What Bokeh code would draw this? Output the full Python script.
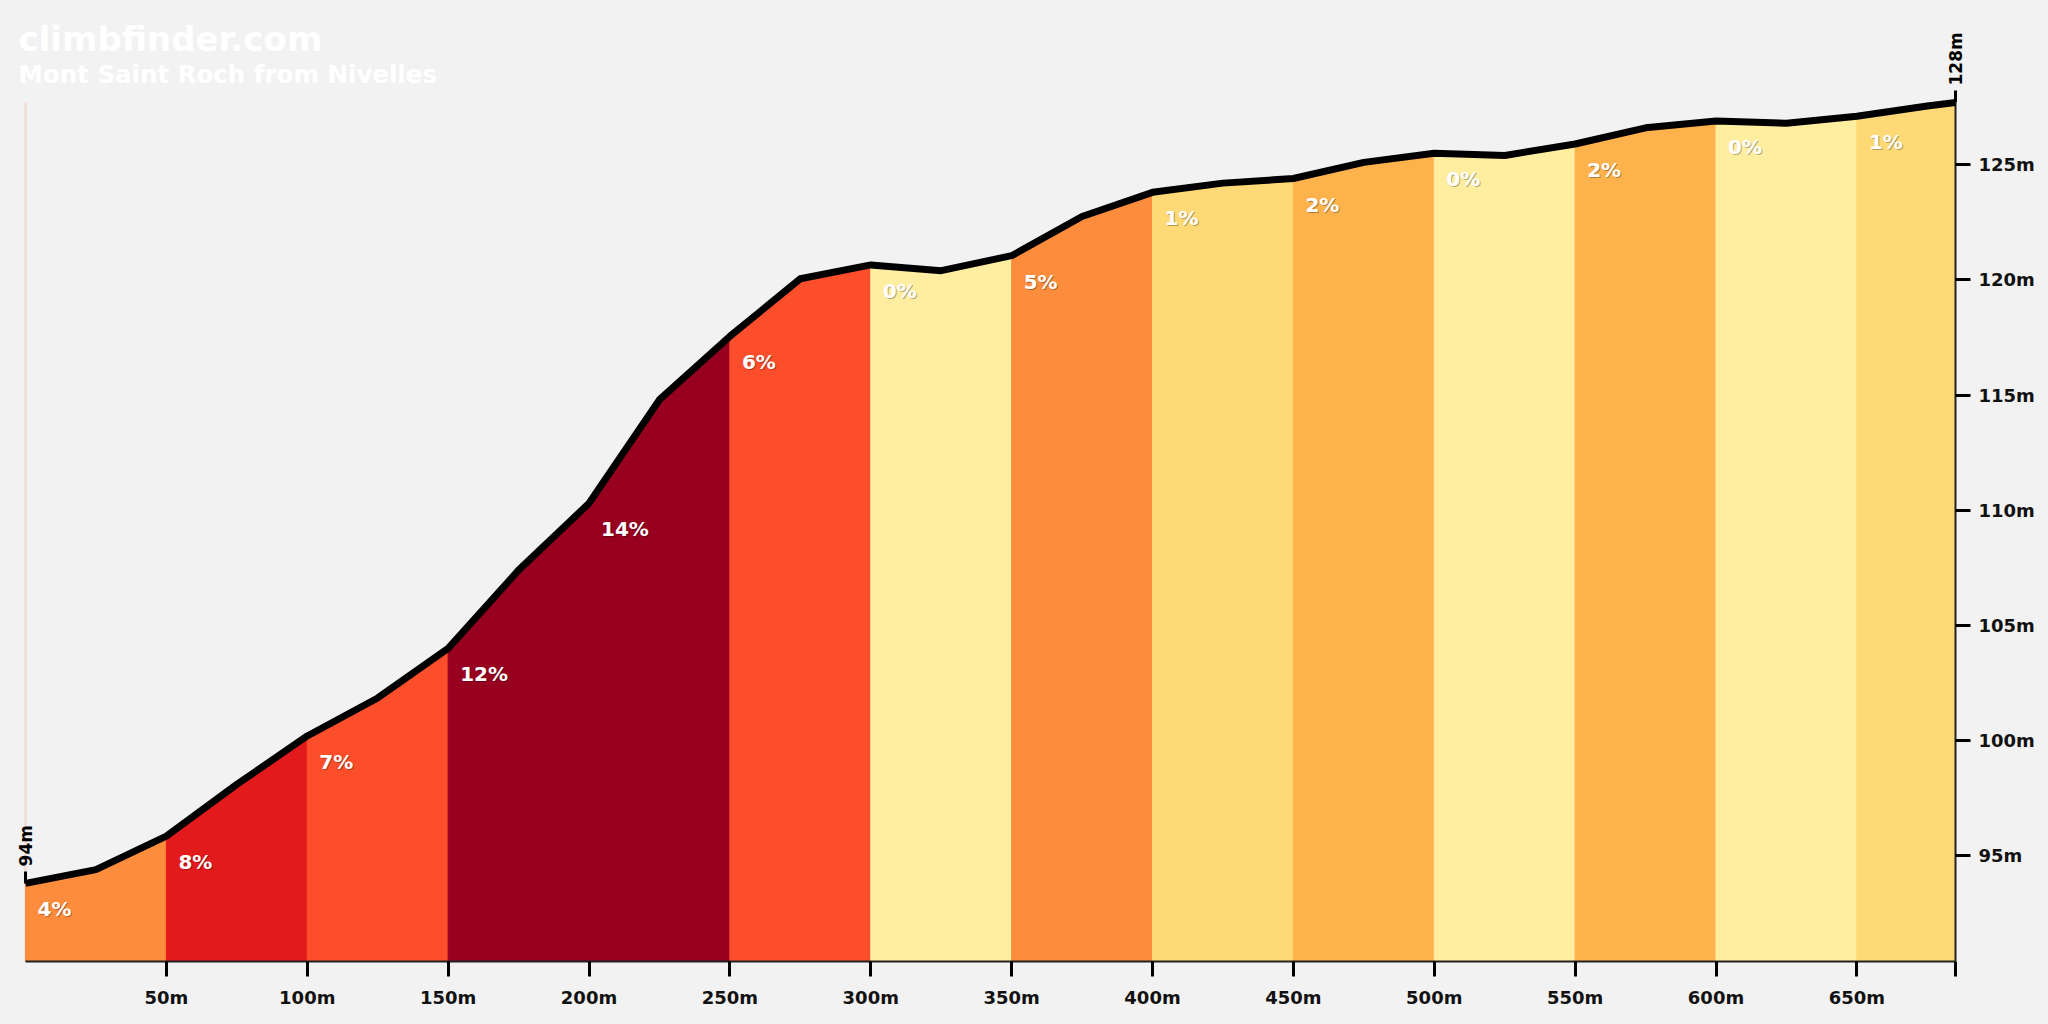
import math
from bokeh.plotting import figure
from bokeh.models import Range1d, FixedTicker, ColumnDataSource
from bokeh.core.properties import value
from bokeh.embed import file_html
from bokeh.resources import INLINE

# ---------------- data ----------------
title_text = "climbfinder.com"
subtitle_text = "Mont Saint Roch from Nivelles"

distance_m = [0, 25, 50, 75, 100, 125, 150, 175, 200, 225, 250, 275, 300, 325,
              350, 375, 400, 425, 450, 475, 500, 525, 550, 575, 600, 625, 650,
              675, 685]
elevation_m = [93.8, 94.4, 95.85, 98.1, 100.2, 101.85, 104.0, 107.4, 110.3,
               114.8, 117.55, 120.05, 120.65, 120.4, 121.05, 122.75, 123.8,
               124.2, 124.4, 125.1, 125.5, 125.4, 125.9, 126.6, 126.9, 126.8,
               127.1, 127.55, 127.7]

segment_start_m = [0, 50, 100, 150, 200, 250, 300, 350, 400, 450, 500, 550, 600, 650]
segment_grade_pct = [4, 8, 7, 12, 14, 6, 0, 5, 1, 2, 0, 2, 0, 1]

start_label = "94m"
end_label = "128m"

x_tick_values = [50, 100, 150, 200, 250, 300, 350, 400, 450, 500, 550, 600, 650]
x_tick_labels = ["50m", "100m", "150m", "200m", "250m", "300m", "350m",
                 "400m", "450m", "500m", "550m", "600m", "650m"]
y_tick_values = [95, 100, 105, 110, 115, 120, 125]
y_tick_labels = ["95m", "100m", "105m", "110m", "115m", "120m", "125m"]

# ---------------- style ----------------
BG = "#f2f2f2"
FONT = "DejaVu Sans"
AXIS_COLOR = "#222222"


def grade_color(g):
    if g < 1:
        return "#ffeda0"
    if g < 2:
        return "#fed976"
    if g < 4:
        return "#feb24c"
    if g < 6:
        return "#fd8d3c"
    if g < 8:
        return "#fc4e2a"
    if g < 10:
        return "#e31a1c"
    return "#98001f"


# ---------------- layout ----------------
W, H = 2048, 1024
border_right, border_bottom = 82, 63
frame_w, frame_h = W - border_right, H - border_bottom
pad_left, pad_right, pad_top = 25, 11, 102

d_end = distance_m[-1]
ppx = (frame_w - pad_left - pad_right) / d_end
ymin, ymax = min(elevation_m), max(elevation_m)
y0 = ymin - 0.1 * (ymax - ymin)
ppy = (frame_h - pad_top) / (ymax - y0)

x_range = Range1d(-pad_left / ppx, d_end + pad_right / ppx)
y_range = Range1d(y0, ymax + pad_top / ppy)

p = figure(width=W, height=H, x_range=x_range, y_range=y_range,
           output_backend="svg", toolbar_location=None, title=None,
           y_axis_location="right",
           min_border_left=0, min_border_top=0,
           min_border_right=border_right, min_border_bottom=border_bottom,
           background_fill_color=BG, border_fill_color=BG,
           outline_line_color=None)
p.grid.visible = False

# faint left edge line
p.segment(x0=[0], y0=[y0], x1=[0], y1=[ymax], line_color="#f6d8cf",
          line_width=2)

# ---------------- coloured segments ----------------
xs, ys, cols = [], [], []
for i, s in enumerate(segment_start_m):
    e = segment_start_m[i + 1] if i + 1 < len(segment_start_m) else d_end
    px = [d for d in distance_m if s <= d <= e]
    py = [elevation_m[distance_m.index(d)] for d in px]
    xs.append(px + [e, s])
    ys.append(py + [y0, y0])
    cols.append(grade_color(segment_grade_pct[i]))
p.patches(xs, ys, fill_color=cols, line_color=cols, line_width=1)

# right-hand axis line at the end of the climb
p.segment(x0=[d_end], y0=[y0], x1=[d_end], y1=[ymax], line_color=AXIS_COLOR,
          line_width=2)

# ---------------- profile line ----------------
p.line(distance_m, elevation_m, line_color="black", line_width=7,
       line_join="round")

# ---------------- grade labels ----------------
lab_y = [elevation_m[distance_m.index(s)] for s in segment_start_m]
lab_t = [f"{g}%" for g in segment_grade_pct]
src = ColumnDataSource(dict(x=segment_start_m, y=lab_y, t=lab_t))
p.text("x", "y", text="t", source=src, x_offset=13, y_offset=27,
       text_align="left", text_baseline="alphabetic", text_font=value(FONT),
       text_font_style="bold", text_font_size=value("20px"),
       text_color="rgba(0,0,0,0.3)")
p.text("x", "y", text="t", source=src, x_offset=12, y_offset=26,
       text_align="left", text_baseline="alphabetic", text_font=value(FONT),
       text_font_style="bold", text_font_size=value("20px"),
       text_color="white")

# ---------------- start / end markers ----------------
ends_x = [distance_m[0], d_end]
ends_y = [elevation_m[0], elevation_m[-1]]
p.segment(x0=ends_x, y0=ends_y, x1=ends_x, y1=[v + 12 / ppy for v in ends_y],
          line_color="black", line_width=3)
p.text(x=ends_x, y=ends_y, text=[start_label, end_label], angle=math.pi / 2,
       y_offset=-17, text_align="left", text_baseline="middle",
       text_font=value(FONT), text_font_style="bold",
       text_font_size=value("17px"), text_color="black")

# ---------------- title ----------------
p.text(x=[x_range.start, x_range.start], y=[y_range.end, y_range.end],
       text=[title_text, subtitle_text], x_offset=[18, 18], y_offset=[38, 74],
       text_align="left", text_baseline="middle", text_font=value(FONT),
       text_font_style="bold", text_font_size=["34px", "24.5px"],
       text_color="white")

# ---------------- axes ----------------
for ax in (p.xaxis[0], p.yaxis[0]):
    ax.axis_line_color = AXIS_COLOR
    ax.axis_line_width = 2
    ax.major_tick_line_color = "black"
    ax.major_tick_line_width = 3
    ax.major_tick_out = 15
    ax.major_tick_in = 0
    ax.minor_tick_line_color = None
    ax.major_label_text_font = FONT
    ax.major_label_text_font_style = "bold"
    ax.major_label_text_font_size = "18px"
    ax.major_label_text_color = "#111111"

xa = p.xaxis[0]
xa.ticker = FixedTicker(ticks=x_tick_values + [d_end])
ovr = dict(zip(x_tick_values, x_tick_labels))
ovr[d_end] = ""
xa.major_label_overrides = ovr
xa.bounds = (0, d_end)
xa.major_label_standoff = 10

# the frame reaches pad_right px beyond the climb's end; the ticks reach
# back to the end of the climb
ya = p.yaxis[0]
ya.ticker = FixedTicker(ticks=y_tick_values)
ya.major_label_overrides = dict(zip(y_tick_values, y_tick_labels))
ya.axis_line_color = None
ya.major_tick_in = pad_right
ya.major_tick_out = 15 - pad_right
ya.major_label_standoff = 8

html = file_html(p, INLINE)
html = html.replace("<head>", "<head><style>body{background:%s;}</style>" % BG, 1)
open("out.html", "w").write(html)
